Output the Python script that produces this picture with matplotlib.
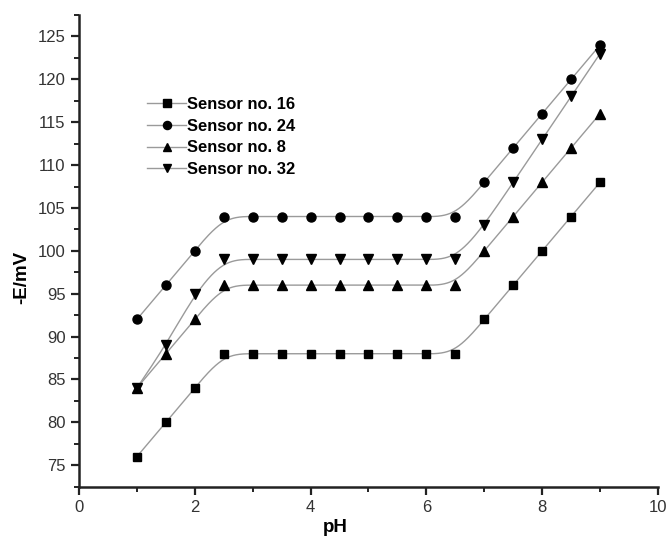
import numpy as np
import matplotlib
matplotlib.use("Agg")
import matplotlib.pyplot as plt
from matplotlib.ticker import MultipleLocator

plt.rcParams['font.family'] = ['Liberation Sans', 'DejaVu Sans']

ph = [1, 1.5, 2, 2.5, 3, 3.5, 4, 4.5, 5, 5.5, 6, 6.5, 7, 7.5, 8, 8.5, 9]
sensor_16 = [76, 80, 84, 88, 88, 88, 88, 88, 88, 88, 88, 88, 92, 96, 100, 104, 108]
sensor_24 = [92, 96, 100, 104, 104, 104, 104, 104, 104, 104, 104, 104, 108, 112, 116, 120, 124]
sensor_8 = [84, 88, 92, 96, 96, 96, 96, 96, 96, 96, 96, 96, 100, 104, 108, 112, 116]
sensor_32 = [84, 89, 95, 99, 99, 99, 99, 99, 99, 99, 99, 99, 103, 108, 113, 118, 123]

series = [
    ("Sensor no. 16", sensor_16, "s", 5.8),
    ("Sensor no. 24", sensor_24, "o", 6.5),
    ("Sensor no. 8", sensor_8, "^", 7.0),
    ("Sensor no. 32", sensor_32, "v", 7.0),
]


def bspline(x, y, n=40):
    """Clamped uniform cubic B-spline using the points as control points."""
    px = np.concatenate([[x[0]] * 2, x, [x[-1]] * 2]).astype(float)
    py = np.concatenate([[y[0]] * 2, y, [y[-1]] * 2]).astype(float)
    t = np.linspace(0, 1, n, endpoint=False)
    b0 = (1 - t) ** 3 / 6
    b1 = (3 * t ** 3 - 6 * t ** 2 + 4) / 6
    b2 = (-3 * t ** 3 + 3 * t ** 2 + 3 * t + 1) / 6
    b3 = t ** 3 / 6
    xs, ys = [], []
    for i in range(len(px) - 3):
        xs.append(b0 * px[i] + b1 * px[i + 1] + b2 * px[i + 2] + b3 * px[i + 3])
        ys.append(b0 * py[i] + b1 * py[i + 1] + b2 * py[i + 2] + b3 * py[i + 3])
    xs.append([x[-1]])
    ys.append([y[-1]])
    return np.concatenate(xs), np.concatenate(ys)


fig = plt.figure(figsize=(6.69, 5.36), dpi=100)
ax = fig.add_axes([0.118, 0.092, 0.8655, 0.88])

line_color = "#9a9a9a"
handles = []
for label, vals, marker, ms in series:
    sx, sy = bspline(np.array(ph), np.array(vals))
    ax.plot(sx, sy, color=line_color, lw=1.0, zorder=2)
    ax.plot(ph, vals, linestyle="none", marker=marker, ms=ms,
            color="black", zorder=3)
    h, = ax.plot([], [], color=line_color, lw=1.0, marker=marker, ms=ms * 0.9,
                 mfc="black", mec="black", label=label)
    handles.append(h)

ax.set_xlim(0, 10)
ax.set_ylim(72.5, 127.5)
ax.xaxis.set_major_locator(MultipleLocator(2))
ax.xaxis.set_minor_locator(MultipleLocator(1))
ax.yaxis.set_major_locator(MultipleLocator(5))
ax.yaxis.set_minor_locator(MultipleLocator(2.5))

for side in ("top", "right"):
    ax.spines[side].set_visible(False)
for side in ("left", "bottom"):
    ax.spines[side].set_linewidth(1.8)
    ax.spines[side].set_color("#222222")

ax.tick_params(which="major", direction="out", length=6, width=1.6,
               labelsize=12, labelcolor="#333333", color="#222222")
ax.tick_params(which="minor", direction="out", length=3.5, width=1.4,
               color="#222222")

ax.set_xlabel("pH", fontsize=13.5, fontweight="bold")
ax.xaxis.set_label_coords(0.442, -0.068)
ax.set_ylabel("-E/mV", fontsize=13.5, fontweight="bold", va="center")
ax.yaxis.set_label_coords(-0.098, 0.443)

ax.legend(handles=handles, loc="upper left", bbox_to_anchor=(0.117, 0.826),
          frameon=False, prop={"weight": "bold", "size": 11.9},
          handlelength=2.4, handletextpad=0.05, labelspacing=0.4,
          borderpad=0, borderaxespad=0)

fig.savefig("out.png", dpi=100)
